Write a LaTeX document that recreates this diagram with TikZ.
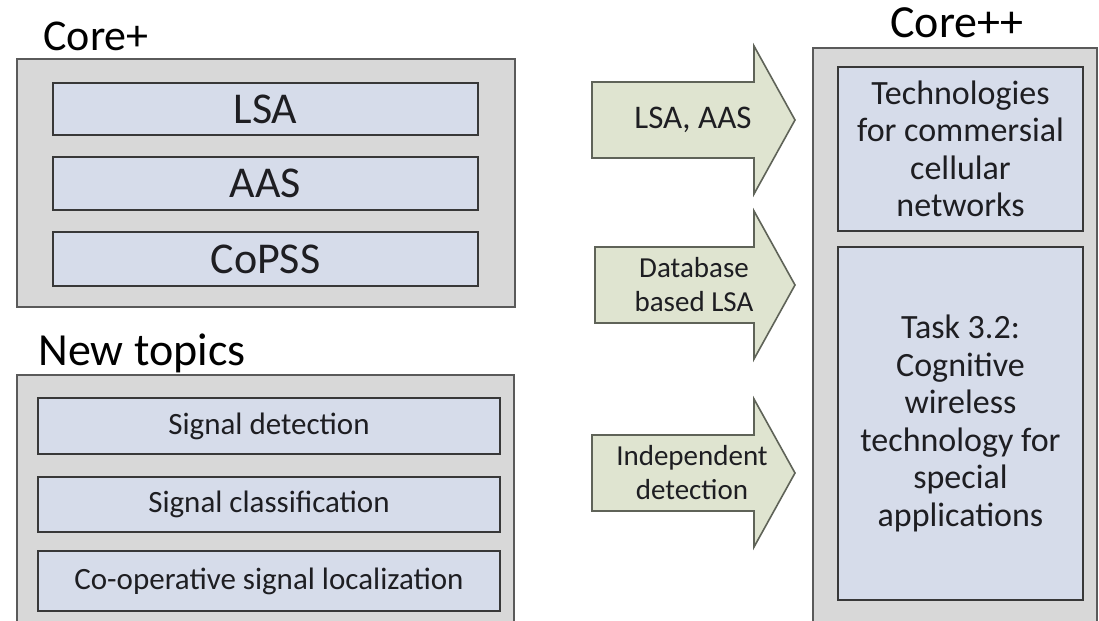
\documentclass[tikz,border=0pt]{standalone}
\usepackage{fontspec}
\setmainfont{Carlito}
\usepackage{xcolor}

\definecolor{outergray}{HTML}{D8D8D8}
\definecolor{outerline}{HTML}{5A5A5A}
\definecolor{itemblue}{HTML}{D6DCEA}
\definecolor{itemline}{HTML}{383838}
\definecolor{arrowfill}{HTML}{DFE4D0}
\definecolor{arrowline}{HTML}{5F6358}
\definecolor{textdark}{HTML}{1E1E22}

\tikzset{
  outerbox/.style={draw=outerline, fill=outergray, line width=1pt, inner sep=0pt, outer sep=0pt},
  itembox/.style={draw=itemline, fill=itemblue, line width=1pt, inner sep=0pt, outer sep=0pt, align=center, text=textdark},
  blockarrow/.style={draw=arrowline, fill=arrowfill, line width=0.8pt, line join=miter},
  grouptitle/.style={inner sep=0pt, anchor=base west, text=black, font=\fontsize{22}{26}\selectfont},
  arrowlabel/.style={inner sep=0pt, align=center, text=textdark, font=\fontsize{14.5}{17}\selectfont}
}

\begin{document}
\begin{tikzpicture}[x=0.5pt, y=-0.5pt]
\useasboundingbox (0,0) rectangle (1099,621);
\clip (0,0) rectangle (1099,621);

% Core+
\node[grouptitle] (coreplustitle) at (43,50) {Core+};
\node[outerbox, minimum width=249pt, minimum height=124pt] (coreplus) at (266,183) {};
\node[itembox, minimum width=212.5pt, minimum height=26pt, font=\fontsize{22}{26}\selectfont] (lsa) at (265.5,109) {LSA};
\node[itembox, minimum width=212.5pt, minimum height=26.5pt, font=\fontsize{22}{26}\selectfont] (aas) at (265.5,183.5) {AAS};
\node[itembox, minimum width=212.5pt, minimum height=27pt, font=\fontsize{22}{26}\selectfont] (copss) at (265.5,259) {CoPSS};

% New topics
\node[grouptitle, font=\fontsize{23}{27}\selectfont] (newtitle) at (38,365) {New topics};
\node[outerbox, minimum width=248.5pt, minimum height=132.5pt] (newtopics) at (265.5,507.5) {};
\node[itembox, minimum width=231pt, minimum height=28pt, font=\fontsize{15.5}{18}\selectfont] (sigdet) at (269,426) {Signal detection};
\node[itembox, minimum width=231pt, minimum height=27.5pt, font=\fontsize{15.5}{18}\selectfont] (sigclass) at (269,504.5) {Signal classification};
\node[itembox, minimum width=231pt, minimum height=30pt, font=\fontsize{15.5}{18}\selectfont] (sigloc) at (269,581) {Co-operative signal localization};

% Core++
\node[grouptitle, anchor=base, font=\fontsize{23}{27}\selectfont] (corepptitle) at (957,38) {Core++};
\node[outerbox, minimum width=142pt, minimum height=296pt] (corepp) at (955,344) {};
\node[itembox, minimum width=122.5pt, minimum height=82pt, font=\fontsize{17}{18.7}\selectfont] (commercial) at (960.5,149)
  {Technologies\\for commersial\\cellular\\networks};
\node[itembox, minimum width=122.5pt, minimum height=176.5pt, font=\fontsize{17}{18.8}\selectfont] (special) at (960.5,423.5)
  {Task 3.2:\\Cognitive\\wireless\\technology for\\special\\applications};

% block arrows
\draw[blockarrow] (592,82) -- (754,82) -- (754,46) -- (795,120) -- (754,194) -- (754,158) -- (592,158) -- cycle;
\draw[blockarrow] (595,247) -- (754,247) -- (754,211) -- (795,285) -- (754,359) -- (754,323) -- (595,323) -- cycle;
\draw[blockarrow] (592,435) -- (754,435) -- (754,399) -- (795,473) -- (754,547) -- (754,511) -- (592,511) -- cycle;
\node[arrowlabel, font=\fontsize{16.5}{19}\selectfont] (lsaaas) at (693,120) {LSA, AAS};
\node[arrowlabel] (dblsa) at (694,285) {Database\\based LSA};
\node[arrowlabel] (indep) at (692,473) {Independent\\detection};
\end{tikzpicture}
\end{document}
